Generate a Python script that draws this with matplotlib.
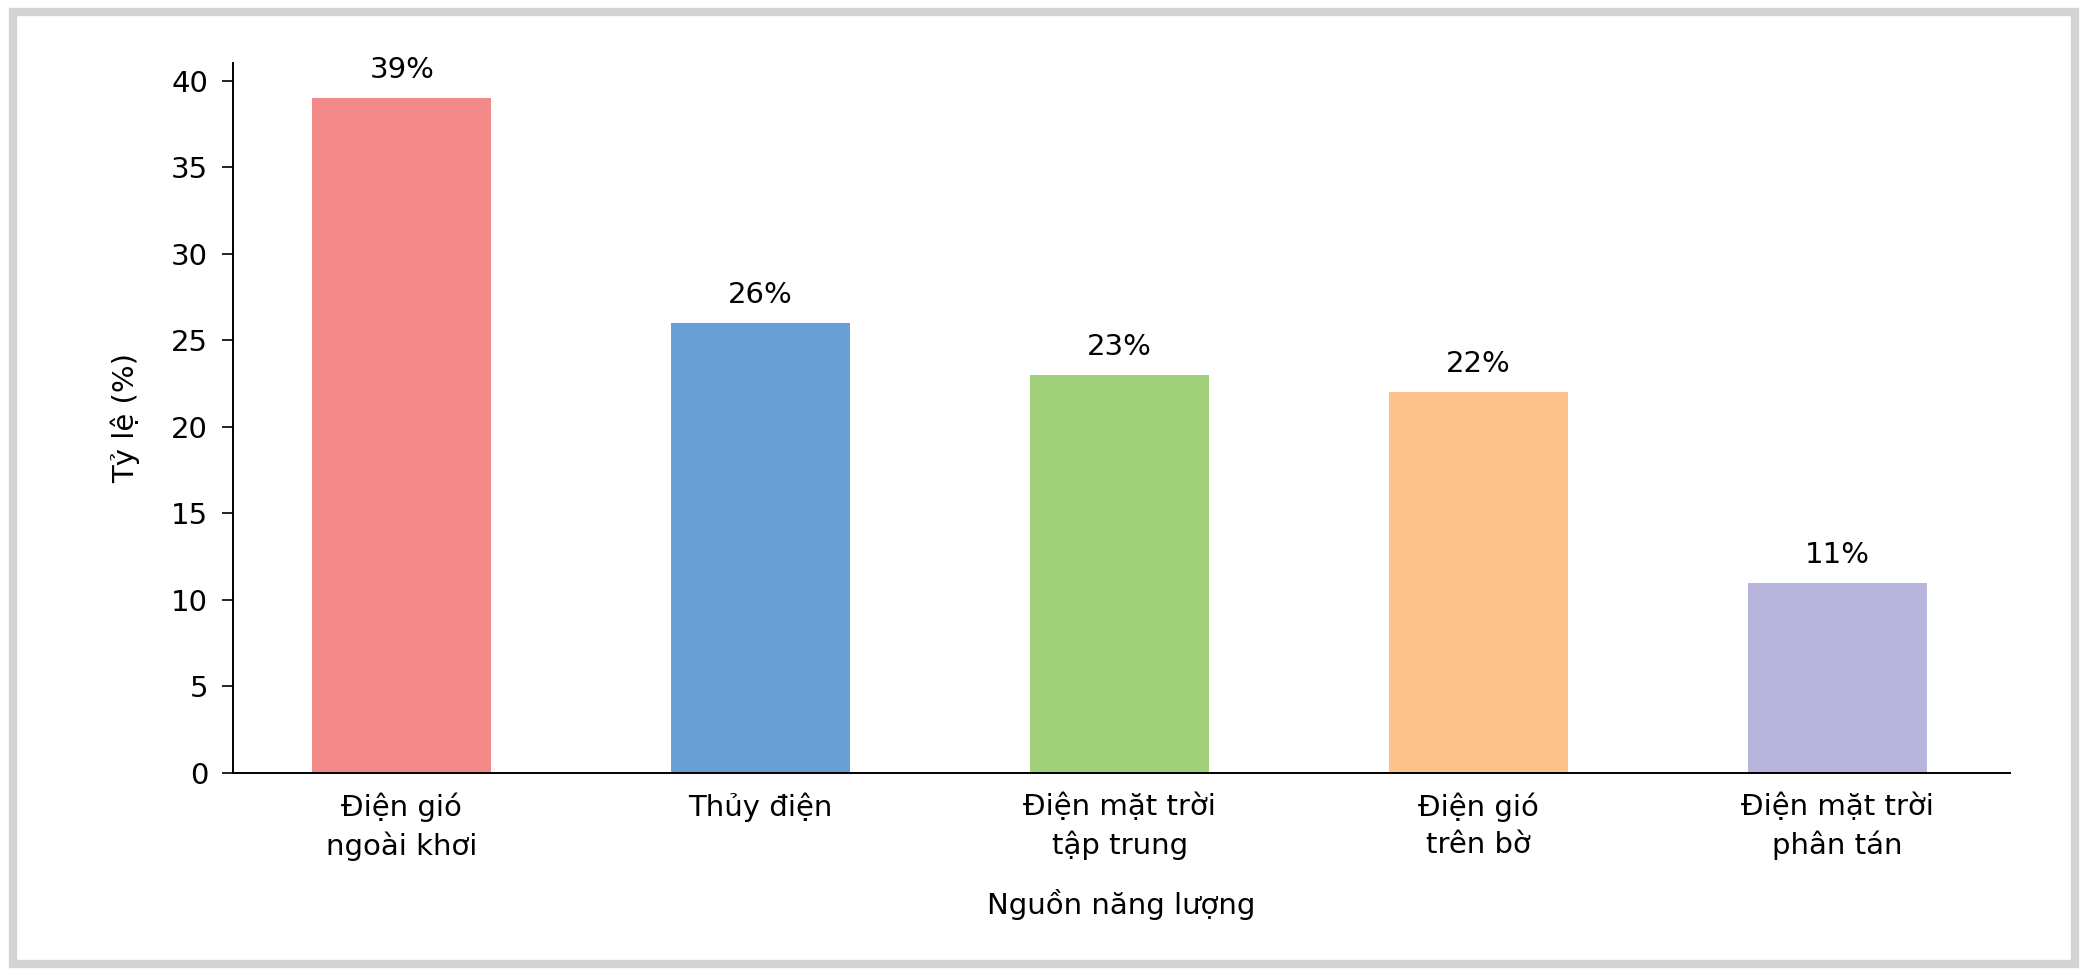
import matplotlib
matplotlib.use("Agg")
import matplotlib.pyplot as plt
from matplotlib.patches import Rectangle

categories = ["Điện gió\nngoài khơi", "Thủy điện", "Điện mặt trời\ntập trung", "Điện gió\ntrên bờ", "Điện mặt trời\nphân tán"]
values = [39, 26, 23, 22, 11]
colors = ["#F4898A", "#6A9FD6", "#A0D07A", "#FDC28B", "#B7B5DB"]
yticks = [0, 5, 10, 15, 20, 25, 30, 35, 40]

plt.rcParams['font.family'] = ['Liberation Sans Narrow', 'DejaVu Sans']
fig = plt.figure(figsize=(20.88, 9.76), dpi=100)
fig.patches.append(Rectangle((0.006, 0.012), 0.988, 0.976, transform=fig.transFigure,
                             fill=False, edgecolor="#D3D3D3", linewidth=6))
ax = fig.add_axes([0.1116, 0.208, 0.851, 0.727])
x = range(len(categories))
ax.bar(x, values, width=0.5, color=colors)
for i, v in enumerate(values):
    ax.text(i, v + 0.8, f"{v}%", ha="center", va="bottom", fontsize=21)
ax.set_xlim(-0.47, 4.48)
ax.set_ylim(0, 41)
ax.set_yticks(yticks)
ax.set_xticks(list(x))
ax.set_xticklabels(categories, fontsize=21, linespacing=1.4)
ax.tick_params(axis="y", labelsize=21, length=8, width=1.2, pad=10)
ax.tick_params(axis="x", length=0, pad=14)
for s in ["top", "right"]:
    ax.spines[s].set_visible(False)
for s in ["left", "bottom"]:
    ax.spines[s].set_linewidth(1.4)
ax.set_ylabel("Tỷ lệ (%)", fontsize=21, labelpad=22)
ax.set_xlabel("Nguồn năng lượng", fontsize=21, labelpad=20)
fig.savefig("out.png", dpi=100)
